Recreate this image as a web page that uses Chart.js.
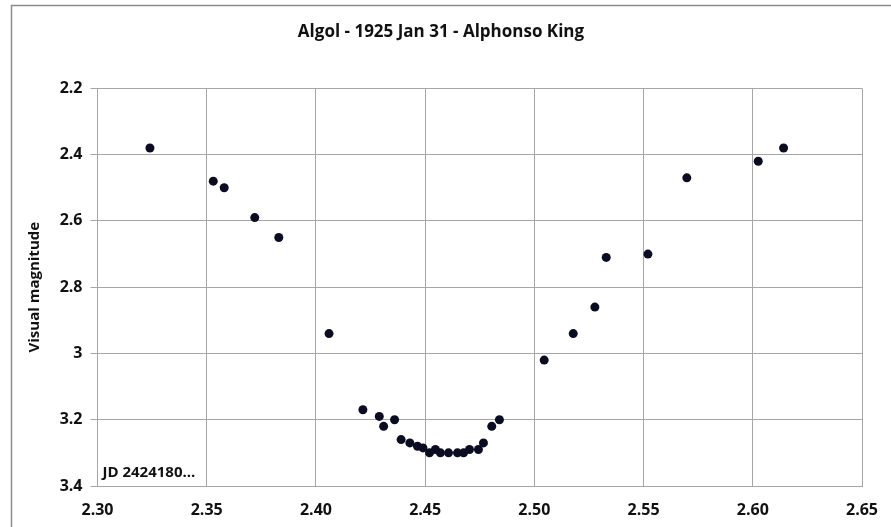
<!DOCTYPE html>
<html>
<head>
<meta charset="utf-8">
<script src="https://cdn.jsdelivr.net/npm/chart.js@4/dist/chart.umd.min.js"></script>
<style>
  html, body { margin: 0; padding: 0; background: #ffffff; }
  #wrap { position: relative; width: 891px; height: 527px; }
</style>
</head>
<body>
<div id="wrap"><canvas id="c" width="891" height="527"></canvas></div>
<script>
// Data (JD offset from 2424180, visual magnitude)
const chartTitle = "Algol - 1925 Jan 31 - Alphonso King";
const yAxisTitle = "Visual magnitude";
const noteText = "JD 2424180...";
const jdOffsets = [2.324, 2.353, 2.358, 2.372, 2.383, 2.406,
  2.4215, 2.429, 2.431, 2.436, 2.439, 2.443, 2.4465, 2.449, 2.452, 2.4547, 2.457, 2.4607, 2.4648, 2.4676, 2.4703, 2.4744, 2.4767, 2.4805, 2.484,
  2.5045, 2.5178, 2.5277, 2.5329, 2.552, 2.5698, 2.6025, 2.6141];
const magnitudes = [2.38, 2.48, 2.50, 2.59, 2.65, 2.94,
  3.17, 3.19, 3.22, 3.20, 3.26, 3.27, 3.28, 3.285, 3.30, 3.29, 3.30, 3.30, 3.30, 3.30, 3.29, 3.29, 3.27, 3.22, 3.20,
  3.02, 2.94, 2.86, 2.71, 2.70, 2.47, 2.42, 2.38];
const xTickValues = [2.30, 2.35, 2.40, 2.45, 2.50, 2.55, 2.60, 2.65];
const yTickValues = [2.2, 2.4, 2.6, 2.8, 3.0, 3.2, 3.4];

const points = jdOffsets.map((x, i) => ({ x: x, y: magnitudes[i] }));
const FONT = "'Open Sans', 'DejaVu Sans', sans-serif";

const frame = {
  id: 'frame',
  beforeDraw(chart) {
    const ctx = chart.ctx;
    ctx.save();
    ctx.fillStyle = '#ffffff';
    ctx.fillRect(0, 0, chart.width, chart.height);
    ctx.strokeStyle = '#8c8c8c';
    ctx.lineWidth = 1.5;
    ctx.beginPath();
    ctx.moveTo(11.5, chart.height);
    ctx.lineTo(11.5, 5.5);
    ctx.lineTo(chart.width, 5.5);
    ctx.stroke();
    ctx.restore();
  },
  afterDatasetsDraw(chart) {
    const ctx = chart.ctx;
    const a = chart.chartArea;
    ctx.save();
    ctx.font = "700 15px " + FONT;
    ctx.fillStyle = '#111111';
    ctx.textAlign = 'left';
    ctx.textBaseline = 'alphabetic';
    ctx.fillText(noteText, a.left + 5, a.bottom - 9);
    ctx.restore();
  }
};

function build() {
  new Chart(document.getElementById('c'), {
    type: 'scatter',
    data: {
      datasets: [{
        data: points,
        backgroundColor: '#0a0d22',
        borderColor: '#0a0d22',
        pointRadius: 4.5,
        pointHoverRadius: 4.5,
        borderWidth: 0
      }]
    },
    options: {
      responsive: false,
      animation: false,
      devicePixelRatio: 1,
      layout: { padding: { left: 20, right: 29, top: 0, bottom: 0 } },
      plugins: {
        legend: { display: false },
        tooltip: { enabled: false },
        title: {
          display: true,
          text: chartTitle,
          color: '#111111',
          font: { family: FONT, size: 17, weight: 700 },
          padding: { top: 22, bottom: 46 }
        }
      },
      scales: {
        x: {
          type: 'linear',
          min: 2.30, max: 2.65,
          afterBuildTicks(scale) { scale.ticks = xTickValues.map(v => ({ value: v })); },
          afterFit(scale) { scale.height = 41; scale.paddingLeft = 0; scale.paddingRight = 0; },
          grid: { color: '#a6a6a6', lineWidth: 1, drawTicks: false },
          border: { color: '#a6a6a6', width: 1 },
          ticks: {
            padding: 15,
            color: '#111111',
            font: { family: FONT, size: 16, weight: 700 },
            callback: v => Number(v).toFixed(2)
          }
        },
        y: {
          type: 'linear',
          reverse: true,
          min: 2.2, max: 3.4,
          afterBuildTicks(scale) { scale.ticks = yTickValues.map(v => ({ value: v })); },
          afterFit(scale) { scale.width = 77.5; },
          grid: { color: '#a6a6a6', lineWidth: 1, tickLength: 7 },
          border: { color: '#a6a6a6', width: 1 },
          title: {
            display: true,
            text: yAxisTitle,
            color: '#111111',
            font: { family: FONT, size: 15, weight: 700 },
            padding: { top: 6, bottom: 0 }
          },
          ticks: {
            padding: 8,
            color: '#111111',
            font: { family: FONT, size: 16, weight: 700 },
            callback: v => String(Math.round(v * 10) / 10)
          }
        }
      }
    },
    plugins: [frame]
  });
}

const fontLoads = [
  document.fonts.load("700 17px 'Open Sans'"),
  document.fonts.load("700 16px 'Open Sans'"),
  document.fonts.load("700 15px 'Open Sans'")
];
Promise.all(fontLoads).then(build, build);
</script>
</body>
</html>
